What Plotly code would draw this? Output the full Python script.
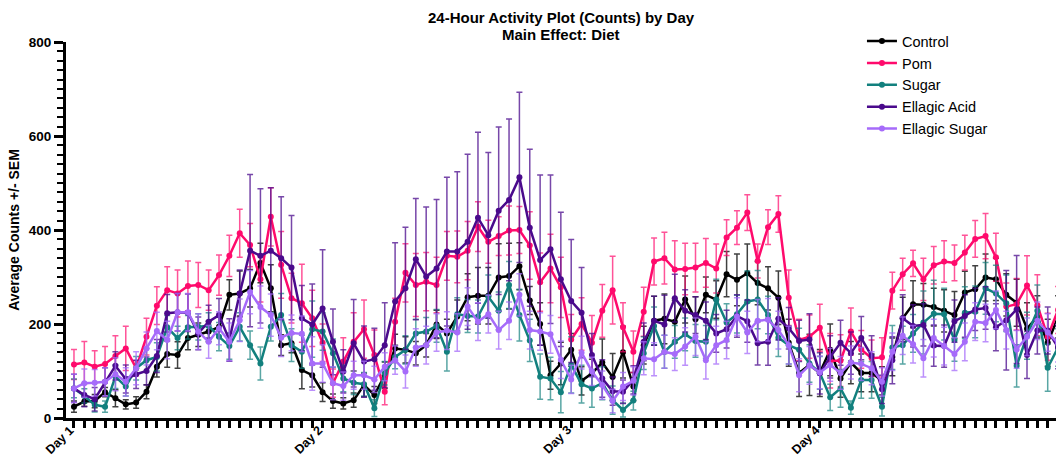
import plotly.graph_objects as go

# Hourly activity (mean counts) over four days, one value per hour
hours = list(range(96))

control = [24, 35, 36, 55, 42, 29, 33, 56, 109, 136, 134, 170, 177, 184, 194, 262, 265, 276, 330, 276,
           155, 159, 102, 91, 55, 36, 31, 38, 70, 49, 91, 148, 145, 138, 155, 199, 180, 216, 257, 260,
           260, 299, 302, 323, 250, 200, 91, 116, 145, 79, 95, 118, 87, 140, 67, 155, 207, 211, 205, 252,
           210, 262, 252, 306, 294, 308, 287, 276, 256, 160, 96, 113, 96, 145, 84, 118, 96, 96, 79, 130,
           212, 242, 241, 236, 228, 219, 267, 274, 299, 295, 262, 245, 190, 215, 160, 215]
pom = [114, 118, 109, 115, 132, 148, 106, 173, 239, 272, 265, 281, 283, 272, 304, 345, 393, 368, 295, 428,
       326, 255, 244, 212, 160, 74, 120, 162, 189, 134, 56, 205, 309, 283, 290, 283, 345, 343, 356, 407,
       375, 387, 399, 400, 367, 289, 318, 278, 167, 200, 160, 228, 272, 193, 141, 226, 333, 340, 316, 317,
       320, 330, 318, 384, 405, 437, 334, 406, 434, 256, 166, 173, 192, 122, 122, 184, 146, 127, 129, 271,
       306, 329, 295, 325, 333, 330, 352, 381, 387, 342, 237, 242, 282, 240, 173, 230]
sugar = [63, 47, 28, 24, 88, 67, 106, 123, 130, 193, 170, 193, 194, 196, 173, 153, 194, 155, 116, 194,
         219, 155, 141, 189, 184, 138, 84, 75, 72, 21, 95, 130, 145, 180, 184, 196, 141, 221, 217, 216,
         258, 228, 283, 219, 165, 88, 84, 55, 113, 72, 63, 74, 38, 17, 37, 138, 196, 141, 162, 178,
         164, 162, 252, 203, 221, 248, 252, 219, 171, 155, 145, 116, 96, 44, 63, 22, 81, 81, 24, 150,
         155, 180, 203, 222, 221, 166, 224, 226, 276, 265, 244, 111, 175, 228, 107, 150]
ellagic_acid = [63, 49, 40, 77, 111, 83, 93, 100, 132, 223, 225, 224, 180, 205, 219, 166, 265, 356, 345, 356,
                340, 320, 212, 199, 233, 162, 99, 159, 120, 125, 155, 248, 276, 338, 301, 318, 354, 354, 375, 426,
                389, 441, 464, 512, 405, 336, 359, 295, 249, 224, 134, 84, 57, 56, 81, 162, 207, 199, 255, 228,
                219, 207, 180, 189, 217, 206, 159, 162, 211, 191, 164, 167, 95, 130, 160, 138, 170, 132, 61, 123,
                212, 196, 198, 154, 153, 206, 217, 231, 234, 193, 208, 231, 134, 186, 186, 150]
ellagic_sugar = [63, 74, 75, 77, 93, 77, 106, 148, 185, 166, 225, 225, 184, 162, 191, 162, 208, 268, 236, 219,
                 171, 181, 179, 116, 116, 74, 68, 91, 91, 82, 109, 123, 99, 150, 155, 182, 186, 182, 237, 205,
                 221, 187, 207, 262, 187, 184, 178, 124, 82, 139, 99, 70, 36, 67, 79, 127, 125, 141, 136, 152,
                 173, 123, 155, 166, 216, 182, 207, 209, 187, 155, 91, 112, 97, 113, 96, 118, 115, 106, 77, 141,
                 175, 157, 127, 170, 153, 136, 162, 205, 202, 230, 187, 146, 173, 207, 182, 159]

# Standard error of the mean for each hour
control_sem = [12, 10, 14, 10, 18, 10, 12, 15, 22, 28, 28, 25, 25, 22, 22, 32, 48, 40, 42, 50,
               22, 20, 40, 25, 20, 15, 12, 15, 25, 18, 28, 30, 28, 25, 25, 30, 30, 35, 50, 60,
               60, 72, 70, 50, 30, 45, 30, 45, 35, 30, 30, 50, 50, 55, 30, 40, 52, 53, 45, 50,
               48, 38, 40, 48, 55, 62, 46, 46, 57, 50, 50, 65, 50, 55, 40, 45, 40, 40, 30, 40,
               45, 50, 45, 40, 45, 50, 45, 50, 50, 45, 45, 50, 55, 45, 50, 45]
pom_sem = [32, 45, 34, 37, 43, 47, 16, 39, 40, 50, 50, 53, 48, 43, 43, 44, 51, 46, 48, 62,
           71, 53, 83, 60, 40, 30, 51, 62, 62, 53, 28, 50, 62, 67, 62, 59, 52, 55, 62, 53,
           46, 41, 52, 50, 72, 62, 73, 64, 53, 56, 58, 56, 72, 52, 44, 52, 50, 55, 61, 55,
           52, 52, 52, 38, 36, 38, 36, 37, 39, 59, 44, 46, 50, 58, 55, 50, 40, 39, 42, 39,
           34, 28, 45, 40, 44, 38, 37, 39, 48, 51, 50, 55, 63, 65, 50, 50]
sugar_sem = [20, 15, 15, 12, 25, 20, 25, 25, 30, 25, 25, 25, 28, 28, 30, 28, 30, 30, 35, 30,
             46, 35, 35, 60, 40, 30, 28, 25, 25, 18, 25, 25, 30, 30, 30, 35, 41, 35, 35, 35,
             46, 40, 50, 55, 45, 48, 45, 44, 60, 40, 40, 35, 30, 15, 20, 35, 40, 35, 35, 35,
             35, 35, 43, 40, 40, 65, 62, 40, 40, 40, 46, 40, 35, 28, 40, 14, 39, 39, 20, 47,
             40, 40, 67, 71, 55, 45, 55, 55, 55, 60, 60, 45, 50, 55, 50, 40]
ellagic_acid_sem = [30, 25, 25, 30, 30, 30, 30, 30, 35, 40, 40, 40, 35, 35, 35, 45, 50, 162, 143, 134,
                    131, 111, 70, 86, 125, 70, 46, 93, 76, 66, 90, 125, 130, 129, 148, 147, 158, 170, 186, 182,
                    176, 178, 172, 181, 167, 181, 158, 143, 131, 96, 46, 40, 30, 25, 30, 40, 52, 62, 51, 45,
                    39, 40, 40, 40, 45, 45, 46, 50, 45, 44, 44, 55, 44, 45, 48, 45, 46, 43, 30, 50,
                    50, 45, 45, 44, 45, 45, 45, 45, 45, 50, 106, 115, 50, 50, 50, 45]
ellagic_sugar_sem = [30, 30, 28, 30, 35, 30, 35, 35, 40, 40, 40, 40, 38, 35, 35, 40, 45, 46, 45, 45,
                     40, 38, 38, 57, 40, 35, 30, 30, 30, 28, 30, 30, 35, 40, 40, 40, 40, 40, 40, 40,
                     40, 40, 40, 45, 40, 40, 40, 40, 30, 35, 30, 30, 25, 30, 30, 35, 35, 35, 35, 40,
                     40, 40, 40, 40, 40, 45, 45, 45, 40, 40, 35, 40, 35, 35, 35, 35, 35, 35, 30, 40,
                     40, 40, 40, 40, 40, 35, 40, 40, 40, 40, 40, 40, 40, 40, 40, 40]

day_ticks = [0, 24, 48, 72]
day_labels = ["Day 1", "Day 2", "Day 3", "Day 4"]
title_lines = ["24-Hour Activity Plot (Counts) by Day", "Main Effect: Diet"]

series = [
    ("Control", control, control_sem, "#000000", "rgba(0,0,0,0.75)"),
    ("Pom", pom, pom_sem, "#FF0A6C", "rgba(255,10,108,0.7)"),
    ("Sugar", sugar, sugar_sem, "#12807E", "rgba(18,128,126,0.7)"),
    ("Ellagic Acid", ellagic_acid, ellagic_acid_sem, "#4A0A8C", "rgba(74,10,140,0.75)"),
    ("Ellagic Sugar", ellagic_sugar, ellagic_sugar_sem, "#A66BFA", "rgba(166,107,250,0.75)"),
]

fig = go.Figure()
for name, vals, sem, color, err_color in series:
    fig.add_trace(go.Scatter(
        x=hours, y=vals, name=name, mode="lines+markers",
        line=dict(color=color, width=2.5),
        marker=dict(color=color, size=6),
        error_y=dict(type="data", array=sem, visible=True,
                     color=err_color, thickness=1.5, width=3),
        cliponaxis=True,
    ))

font_family = "Arial, Liberation Sans, sans-serif"
W, H = 1056, 459

# Two-line centred heading, placed line by line
for line, ypx in zip(title_lines, [17, 34]):
    fig.add_annotation(
        text=line, xref="paper", yref="paper",
        x=0.5, y=1 + (42 - ypx) / 376, xanchor="center", yanchor="middle",
        showarrow=False,
        font=dict(size=15, family=font_family, color="black", weight="bold"),
    )

# Slanted day labels hanging just below-left of each day's first hour tick
for pos, label in zip(day_ticks, day_labels):
    fig.add_annotation(
        text=label, xref="x", yref="paper",
        x=pos, y=0, xanchor="center", yanchor="middle",
        xshift=-14, yshift=-22, textangle=-45, showarrow=False,
        font=dict(size=12.5, family=font_family, color="black", weight="bold"),
    )

fig.update_layout(
    width=W, height=H,
    margin=dict(l=66, r=0, t=42, b=41),
    paper_bgcolor="white", plot_bgcolor="white",
    font=dict(family=font_family, color="black"),
    showlegend=True,
    legend=dict(
        x=0.804, y=1.0447, xanchor="left", yanchor="top",
        bgcolor="rgba(0,0,0,0)", font=dict(size=14.5, color="black"),
        tracegroupgap=0, itemwidth=30,
    ),
)

fig.update_xaxes(
    range=[-0.77, 94.8], automargin=False,
    tickmode="array", tickvals=day_ticks, showticklabels=False,
    ticks="outside", ticklen=7, tickwidth=2.5, tickcolor="black",
    minor=dict(ticks="outside", tick0=0, dtick=1, ticklen=7, tickwidth=2.5, tickcolor="black"),
    showline=True, linewidth=3, linecolor="black",
    showgrid=False, zeroline=False,
)

fig.update_yaxes(
    range=[0, 800], tickvals=[0, 200, 400, 600, 800], automargin=False,
    tickfont=dict(size=13.5, family=font_family, weight="bold"),
    ticks="outside", ticklen=9, tickwidth=2.5, tickcolor="black",
    minor=dict(ticks="outside", dtick=20, ticklen=6, tickwidth=2, tickcolor="black"),
    showline=True, linewidth=3, linecolor="black",
    showgrid=False, zeroline=False,
    title=dict(text="Average Counts +/- SEM",
               font=dict(size=14, family=font_family, weight="bold"), standoff=6),
)

fig.write_html("out.html")
